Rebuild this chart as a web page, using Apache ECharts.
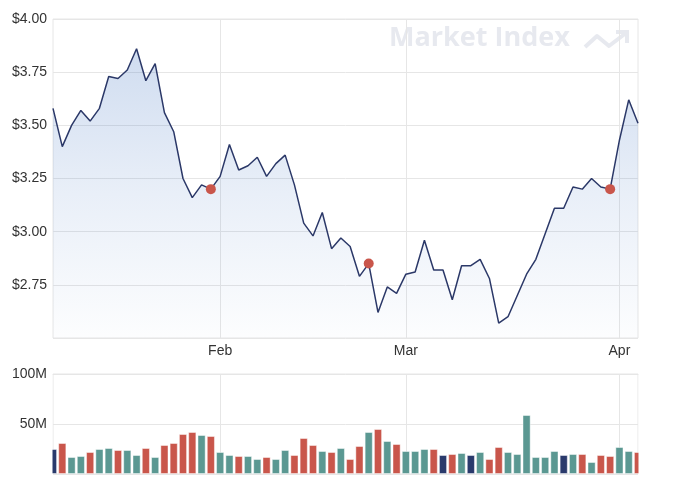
<!DOCTYPE html>
<html>
<head>
<meta charset="utf-8">
<script src="https://cdn.jsdelivr.net/npm/echarts@6/dist/echarts.min.js"></script>
<style>
  html, body { margin: 0; padding: 0; background: #fff; }
  #chart { width: 674px; height: 491px; }
</style>
</head>
<body>
<div id="chart"></div>
<script>
// trading days (ASX calendar)
var dates = [
  '2021-01-05','2021-01-06','2021-01-07','2021-01-08','2021-01-11','2021-01-12','2021-01-13','2021-01-14','2021-01-15',
  '2021-01-18','2021-01-19','2021-01-20','2021-01-21','2021-01-22','2021-01-25','2021-01-27','2021-01-28','2021-01-29',
  '2021-02-01','2021-02-02','2021-02-03','2021-02-04','2021-02-05','2021-02-08','2021-02-09','2021-02-10','2021-02-11',
  '2021-02-12','2021-02-15','2021-02-16','2021-02-17','2021-02-18','2021-02-19','2021-02-22','2021-02-23','2021-02-24',
  '2021-02-25','2021-02-26',
  '2021-03-01','2021-03-02','2021-03-03','2021-03-04','2021-03-05','2021-03-08','2021-03-09','2021-03-10','2021-03-11',
  '2021-03-12','2021-03-15','2021-03-16','2021-03-17','2021-03-18','2021-03-19','2021-03-22','2021-03-23','2021-03-24',
  '2021-03-25','2021-03-26','2021-03-29','2021-03-30','2021-03-31',
  '2021-04-01','2021-04-06','2021-04-07'
];

// closing price ($)
var prices = [
  3.58, 3.40, 3.50, 3.57, 3.52, 3.58, 3.73, 3.72, 3.76, 3.86,
  3.71, 3.79, 3.56, 3.47, 3.25, 3.16, 3.22, 3.20, 3.26, 3.41,
  3.29, 3.31, 3.35, 3.26, 3.32, 3.36, 3.22, 3.04, 2.98, 3.09,
  2.92, 2.97, 2.93, 2.79, 2.85, 2.62, 2.74, 2.71, 2.80, 2.81,
  2.96, 2.82, 2.82, 2.68, 2.84, 2.84, 2.87, 2.78, 2.57, 2.60,
  2.70, 2.80, 2.87, 2.99, 3.11, 3.11, 3.21, 3.20, 3.25, 3.21,
  3.20, 3.43, 3.62, 3.51
];

// volume (millions)
var volumes = [
  25, 31, 17, 18, 22, 25, 26, 24, 24, 19,
  26, 17, 29, 31, 40, 42, 39, 38, 22, 19,
  18, 18, 15, 17, 15, 24, 19, 36, 29, 23,
  22, 26, 15, 28, 42, 45, 33, 30, 23, 23,
  25, 25, 19, 20, 21, 19, 22, 15, 27, 22,
  20, 59, 17, 17, 23, 19, 20, 20, 12, 19,
  18, 27, 23, 22
];

// days with an event marker on the price line
var markerDays = [17, 34, 60];

var priceTicks = [2.5, 4.0, 0.25];   // min, max, step
var volumeTicks = [0, 100, 50];
var monthNames = ['Jan','Feb','Mar','Apr','May','Jun','Jul','Aug','Sep','Oct','Nov','Dec'];

var UP = '#5b9892', DOWN = '#c9564b', FLAT = '#2a3a6c';
var LINE = '#2b3868';
var GRIDLINE = '#e6e6e6';
var LABEL = '#333333';
var WATERMARK = '#e7e9ef';
var FONT = '"Liberation Sans", Arial, sans-serif';

// grid boxes
var G_LEFT = 53, G_RIGHT = 36, W = 674;
var PRICE_TOP = 19, PRICE_H = 319;
var VOL_TOP = 374, VOL_H = 100;

function isMonthStart(i) {
  return i > 0 && dates[i].slice(5, 7) !== dates[i - 1].slice(5, 7);
}

var priceData = prices.map(function (p, i) {
  if (markerDays.indexOf(i) >= 0) {
    return { value: p, symbol: 'circle', symbolSize: 10, itemStyle: { color: DOWN, borderWidth: 0 } };
  }
  return { value: p, symbol: 'none' };
});

var volumeData = volumes.map(function (v, i) {
  var c = FLAT;
  if (i > 0 && prices[i] > prices[i - 1]) c = UP;
  if (i > 0 && prices[i] < prices[i - 1]) c = DOWN;
  return { value: v, itemStyle: { color: c } };
});

var xBase = {
  type: 'category',
  data: dates,
  boundaryGap: false,
  axisLine: { show: false },
  axisTick: { show: false },
  splitLine: {
    show: true,
    interval: function (i) { return isMonthStart(i); },
    lineStyle: { color: GRIDLINE, width: 1 }
  }
};

var myChart = echarts.init(document.getElementById('chart'), null, { renderer: 'canvas' });

myChart.setOption({
  animation: false,
  backgroundColor: '#ffffff',
  textStyle: { fontFamily: FONT },
  graphic: [
    // echarts does not clip half bars at the edges of a boundaryGap:false axis, so mask them
    {
      type: 'rect', silent: true, z: 100,
      shape: { x: G_LEFT - 5.2, y: VOL_TOP + 1, width: 4.7, height: VOL_H },
      style: { fill: '#ffffff' }
    },
    {
      type: 'rect', silent: true, z: 100,
      shape: { x: W - G_RIGHT + 0.5, y: VOL_TOP + 1, width: 12, height: VOL_H },
      style: { fill: '#ffffff' }
    },
    {
      type: 'text',
      left: 389, top: 25,
      silent: true,
      style: {
        text: 'Market Index',
        fill: WATERMARK,
        font: 'bold 27px "Open Sans", sans-serif'
      }
    },
    {
      type: 'polyline',
      silent: true,
      shape: { points: [[585, 47], [597, 36], [609, 46], [626, 33]] },
      style: { stroke: WATERMARK, lineWidth: 4, fill: null, lineJoin: 'round' }
    },
    {
      type: 'polyline',
      silent: true,
      shape: { points: [[616, 32], [627, 32], [627, 43]] },
      style: { stroke: WATERMARK, lineWidth: 4, fill: null }
    }
  ],
  grid: [
    { left: G_LEFT, right: G_RIGHT, top: PRICE_TOP, height: PRICE_H, show: true, borderColor: GRIDLINE, borderWidth: 1 },
    { left: G_LEFT, right: G_RIGHT, top: VOL_TOP, height: VOL_H, show: true, borderColor: GRIDLINE, borderWidth: 1 }
  ],
  xAxis: [
    Object.assign({}, xBase, {
      gridIndex: 0,
      axisLabel: {
        show: true,
        interval: function (i) { return isMonthStart(i); },
        formatter: function (v) { return monthNames[+v.slice(5, 7) - 1]; },
        color: LABEL,
        fontSize: 14,
        margin: 6
      }
    }),
    Object.assign({}, xBase, {
      gridIndex: 1,
      axisLabel: { show: false }
    })
  ],
  yAxis: [
    {
      type: 'value',
      gridIndex: 0,
      min: priceTicks[0], max: priceTicks[1], interval: priceTicks[2],
      axisLine: { show: false },
      axisTick: { show: false },
      axisLabel: {
        showMinLabel: false,
        color: LABEL, fontSize: 14, margin: 6,
        formatter: function (v) { return '$' + v.toFixed(2); }
      },
      splitLine: { lineStyle: { color: GRIDLINE } }
    },
    {
      type: 'value',
      gridIndex: 1,
      min: volumeTicks[0], max: volumeTicks[1], interval: volumeTicks[2],
      axisLine: { show: false },
      axisTick: { show: false },
      axisLabel: {
        showMinLabel: false,
        color: LABEL, fontSize: 14, margin: 6,
        formatter: function (v) { return v + 'M'; }
      },
      splitLine: { lineStyle: { color: GRIDLINE } }
    }
  ],
  series: [
    {
      name: 'Price',
      type: 'line',
      xAxisIndex: 0, yAxisIndex: 0,
      data: priceData,
      showSymbol: true,
      lineStyle: { color: LINE, width: 1.5 },
      itemStyle: { color: LINE },
      areaStyle: {
        origin: 'start',
        color: new echarts.graphic.LinearGradient(0, 0, 0, 1, [
          { offset: 0, color: 'rgba(68,119,196,0.36)' },
          { offset: 0.5, color: 'rgba(68,119,196,0.17)' },
          { offset: 1, color: 'rgba(68,119,196,0.02)' }
        ])
      },
      z: 3
    },
    {
      name: 'Volume',
      type: 'bar',
      xAxisIndex: 1, yAxisIndex: 1,
      data: volumeData,
      barWidth: '88%',
      itemStyle: { borderColor: 'rgba(255,255,255,0.45)', borderWidth: 1 }
    }
  ]
});
</script>
</body>
</html>
